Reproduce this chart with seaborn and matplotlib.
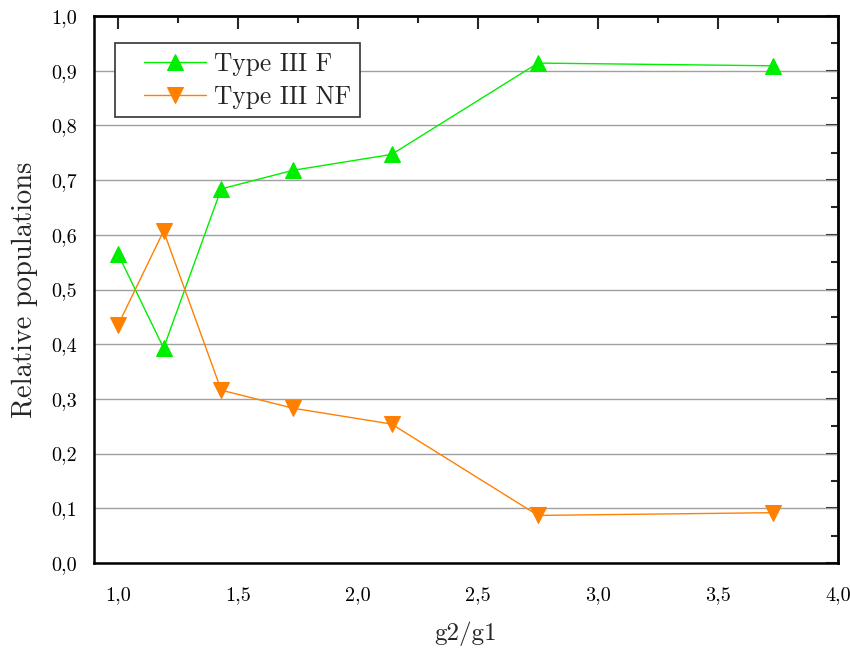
import numpy as np
import pandas as pd
import matplotlib
matplotlib.use('Agg')
import matplotlib.pyplot as plt
from matplotlib.lines import Line2D
from matplotlib.legend_handler import HandlerLine2D
from matplotlib.ticker import MultipleLocator, FuncFormatter, NullFormatter
import seaborn as sns

# data
ratio = [1.0, 1.19, 1.43, 1.73, 2.14, 2.75, 3.73]
type3_f = [0.565, 0.393, 0.684, 0.718, 0.747, 0.914, 0.909]
type3_nf = [0.435, 0.607, 0.316, 0.283, 0.254, 0.087, 0.092]

sns.set_style('white')
plt.rcParams['font.family'] = ['cmr10', 'DejaVu Serif']
plt.rcParams['axes.unicode_minus'] = False
plt.rcParams['mathtext.fontset'] = 'cm'

df = pd.DataFrame({'x': ratio, 'F': type3_f, 'NF': type3_nf})

fig = plt.figure(figsize=(8.5, 6.49), dpi=100)
ax = fig.add_axes([0.1106, 0.1325, 0.8753, 0.8428])

ax.yaxis.grid(True, color='#a0a0a0', linewidth=1)
ax.set_axisbelow(True)

sns.lineplot(data=df, x='x', y='F', ax=ax, color='#00ee00', linewidth=1,
             marker='^', markersize=12, markeredgecolor='#00ee00',
             label='Type III F')
sns.lineplot(data=df, x='x', y='NF', ax=ax, color='#ff8000', linewidth=1,
             marker='v', markersize=12, markeredgecolor='#ff8000',
             label='Type III NF')

ax.set_xlim(0.9, 4.0)
ax.set_ylim(0.0, 1.0)
comma = FuncFormatter(lambda v, p: f'{v:.1f}'.replace('.', ','))

ax.xaxis.set_major_locator(MultipleLocator(0.5))
ax.xaxis.set_minor_locator(MultipleLocator(0.25))
ax.yaxis.set_major_locator(MultipleLocator(0.1))
ax.yaxis.set_minor_locator(MultipleLocator(0.05))
ax.xaxis.set_major_formatter(comma)
ax.yaxis.set_major_formatter(comma)

for s in ax.spines.values():
    s.set_visible(True)
    s.set_color('black')
    s.set_linewidth(1.8)

# outer ticks on left/bottom
ax.tick_params(which='both', direction='out', width=1.5, colors='black',
               top=False, right=False)
ax.tick_params(which='major', length=9)
ax.tick_params(which='minor', length=5)
ax.tick_params(axis='x', labelsize=14.5, pad=8)
ax.tick_params(axis='y', labelsize=14.5, pad=3)

# inner ticks on top/right (Origin style)
top = ax.secondary_xaxis('top')
top.xaxis.set_major_locator(MultipleLocator(0.5))
top.xaxis.set_minor_locator(MultipleLocator(0.25))
top.xaxis.set_major_formatter(NullFormatter())
top.tick_params(which='both', direction='in', width=1.5)
top.tick_params(which='major', length=9)
top.tick_params(which='minor', length=5)
right = ax.secondary_yaxis('right')
right.yaxis.set_major_locator(MultipleLocator(0.1))
right.yaxis.set_minor_locator(MultipleLocator(0.05))
right.yaxis.set_major_formatter(NullFormatter())
right.tick_params(which='both', direction='in', width=1.5)
right.tick_params(which='major', length=9)
right.tick_params(which='minor', length=5)
for sec in (top, right):
    for s in sec.spines.values():
        s.set_linewidth(1.8)

ax.set_xlabel('g2/g1', fontsize=18, labelpad=12)
ax.set_ylabel('Relative populations', fontsize=20.5, labelpad=10)

# extra space left of the legend handles, like the original
leg = ax.legend(loc='upper left', bbox_to_anchor=(0.028, 0.95), fontsize=18.3,
                frameon=True, fancybox=False, borderpad=0.33, handlelength=3.27,
                labelspacing=0.38, borderaxespad=0, handletextpad=0.32,
                handler_map={Line2D: HandlerLine2D(xpad=0.83)})
leg.get_frame().set_edgecolor('#333333')
leg.get_frame().set_linewidth(1.2)
leg.get_frame().set_alpha(1)

fig.savefig('out.png', dpi=100)
